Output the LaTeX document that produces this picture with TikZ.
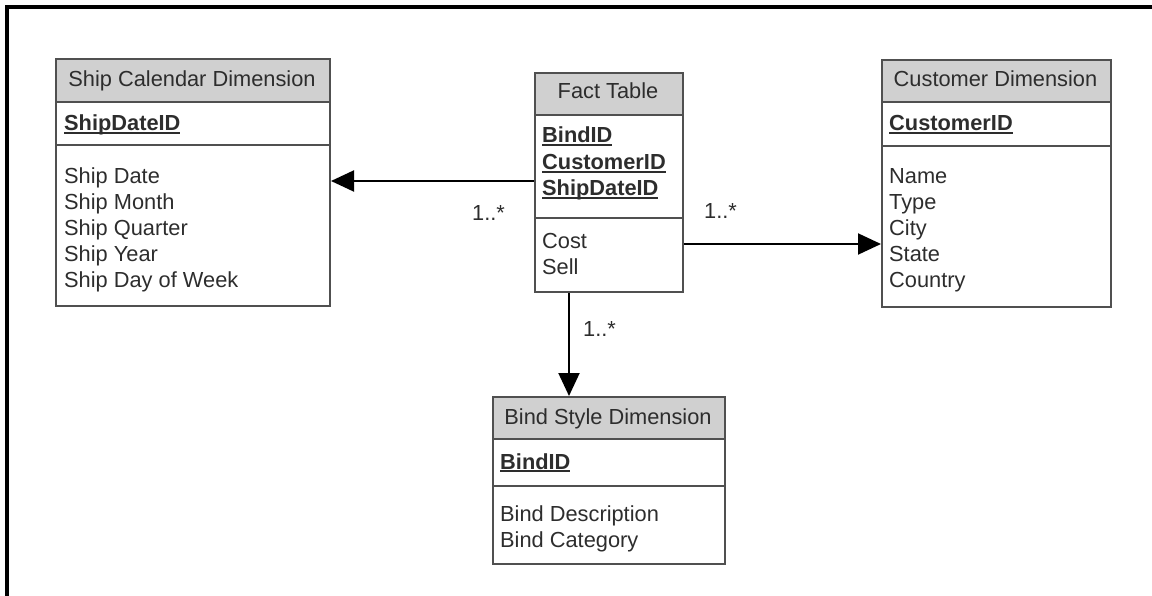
\documentclass[tikz,border=0pt]{standalone}
\usepackage{fontspec}
\setmainfont{Liberation Sans}
\usetikzlibrary{arrows.meta}

\definecolor{edge}{RGB}{80,80,80}
\definecolor{hdr}{RGB}{208,208,208}
\definecolor{ink}{RGB}{45,45,45}

% key field: bold text with a rule just under the baseline
\newcommand\keyfield[1]{\setbox0\hbox{\bfseries #1}\rlap{\rule[-2.6pt]{\wd0}{1.6pt}}\box0}

\begin{document}
\begin{tikzpicture}[x=1pt,y=-1pt,
  tablebox/.style={draw=edge, line width=2pt, anchor=north west, inner sep=0pt},
  hdrfill/.style={fill=hdr},
  divider/.style={draw=edge, line width=2pt},
  title/.style={text=ink, font=\fontsize{21.8}{26}\selectfont, anchor=base, inner sep=0pt},
  row/.style={text=ink, font=\fontsize{21.8}{26}\selectfont, anchor=base west, inner sep=0pt},
  link/.style={line width=2pt, draw=black, -{Triangle[length=23pt,width=21pt]}},
  mult/.style={text=ink, font=\fontsize{21.8}{26}\selectfont, anchor=base west, inner sep=0pt}
]
\useasboundingbox (0,0) rectangle (1152,596);

% frame along the top and left edge
\draw[line width=4pt, line cap=rect] (7,600) -- (7,7) -- (1160,7);

% ---- Ship Calendar Dimension ----
\fill[hdrfill] (55,58) rectangle (329,102);
\node[tablebox, minimum width=274pt, minimum height=247pt] (ship) at (55,58) {};
\draw[divider] (ship.west |- 0,102) -- (ship.east |- 0,102);
\draw[divider] (ship.west |- 0,145) -- (ship.east |- 0,145);
\node[title] (shipT) at (192,87) {Ship Calendar Dimension};
\node[row] (shipK) at (64,131) {\keyfield{ShipDateID}};
\node[row] (ship1) at (64,184) {Ship Date};
\node[row] (ship2) at (64,210) {Ship Month};
\node[row] (ship3) at (64,236) {Ship Quarter};
\node[row] (ship4) at (64,262) {Ship Year};
\node[row] (ship5) at (64,288) {Ship Day of Week};

% ---- Fact Table ----
\fill[hdrfill] (534,72) rectangle (682,115);
\node[tablebox, minimum width=148pt, minimum height=219pt] (fact) at (534,72) {};
\draw[divider] (fact.west |- 0,115) -- (fact.east |- 0,115);
\draw[divider] (fact.west |- 0,218) -- (fact.east |- 0,218);
\node[title] (factT) at (608,99) {Fact Table};
\node[row] (factK1) at (542,143) {\keyfield{BindID}};
\node[row] (factK2) at (542,170) {\keyfield{CustomerID}};
\node[row] (factK3) at (542,196) {\keyfield{ShipDateID}};
\node[row] (fact1) at (542,249) {Cost};
\node[row] (fact2) at (542,275) {Sell};

% ---- Customer Dimension ----
\fill[hdrfill] (881,59) rectangle (1110,102);
\node[tablebox, minimum width=229pt, minimum height=247pt] (cust) at (881,59) {};
\draw[divider] (cust.west |- 0,102) -- (cust.east |- 0,102);
\draw[divider] (cust.west |- 0,146) -- (cust.east |- 0,146);
\node[title] (custT) at (995.5,87) {Customer Dimension};
\node[row] (custK) at (889,131) {\keyfield{CustomerID}};
\node[row] (cust1) at (889,184) {Name};
\node[row] (cust2) at (889,210) {Type};
\node[row] (cust3) at (889,236) {City};
\node[row] (cust4) at (889,262) {State};
\node[row] (cust5) at (889,288) {Country};

% ---- Bind Style Dimension ----
\fill[hdrfill] (492,396) rectangle (724,439);
\node[tablebox, minimum width=232pt, minimum height=167pt] (bind) at (492,396) {};
\draw[divider] (bind.west |- 0,439) -- (bind.east |- 0,439);
\draw[divider] (bind.west |- 0,486) -- (bind.east |- 0,486);
\node[title] (bindT) at (608,424) {Bind Style Dimension};
\node[row] (bindK) at (500,469) {\keyfield{BindID}};
\node[row] (bind1) at (500,521) {Bind Description};
\node[row] (bind2) at (500,547) {Bind Category};

% ---- relationships ----
\draw[link] (fact.west |- 0,181) -- (ship.east |- 0,181);
\draw[link] (fact.east |- 0,244) -- (cust.west |- 0,244);
\draw[link] (fact.south -| 569,0) -- (bind.north -| 569,0);

\node[mult] (m1) at (472,221) {1..*};
\node[mult] (m2) at (704,219) {1..*};
\node[mult] (m3) at (583,337) {1..*};
\end{tikzpicture}
\end{document}
